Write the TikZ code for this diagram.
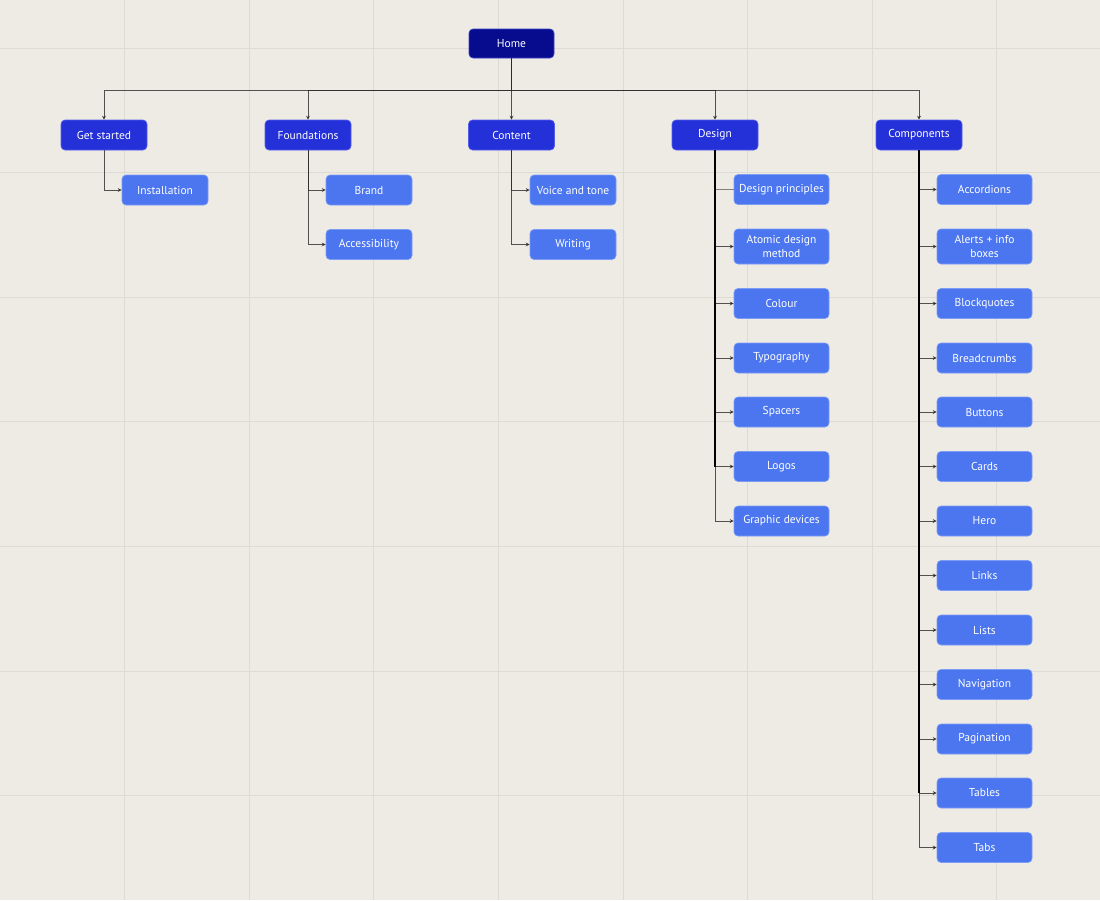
\documentclass[tikz,border=0pt]{standalone}
\usepackage{fontspec}
\setmainfont{PT Sans}
\usetikzlibrary{arrows.meta}
\definecolor{bg}{HTML}{EEEAE4}
\definecolor{gridc}{HTML}{DEDAD4}
\definecolor{homec}{HTML}{070B8E}
\definecolor{homeb}{HTML}{3A44C8}
\definecolor{lonec}{HTML}{2430D8}
\definecolor{loneb}{HTML}{5560EA}
\definecolor{ltwoc}{HTML}{4B76F0}
\definecolor{ltwob}{HTML}{7C9CF5}
\definecolor{linec}{HTML}{2A2A2A}
\begin{document}
\begin{tikzpicture}[x=1pt,y=-1pt,
  base/.style={rounded corners=4pt,text=white,font=\fontsize{11.5}{14.5}\selectfont,align=center,inner sep=0pt,line width=0.6pt},
  homebox/.style={base,fill=homec,draw=homeb,minimum width=85pt,minimum height=29pt},
  topbox/.style={base,fill=lonec,draw=loneb,minimum width=86pt,minimum height=30pt},
  leafbox/.style={base,fill=ltwoc,draw=ltwob,minimum width=86pt,minimum height=30pt},
  wideleaf/.style={leafbox,minimum width=95pt},
  tallleaf/.style={wideleaf,minimum height=35pt},
  edge/.style={draw=linec,draw opacity=0.8,line width=0.9pt,-{Stealth[length=4pt,width=4pt]}},
  plainedge/.style={draw=gray,line width=0.9pt},
  trunk/.style={draw=black,line width=1.8pt}
]
\useasboundingbox (0,0) rectangle (1100,900);
\fill[bg] (0,0) rectangle (1100,900);
\foreach \k in {1,...,8} {\draw[gridc,line width=1pt] (124.6*\k,0) -- (124.6*\k,900);}
\foreach \k in {0,...,6} {\draw[gridc,line width=1pt] (0,48+124.6*\k) -- (1100,48+124.6*\k);}

\coordinate (bus) at (0,90);

\node[homebox] (home) at (511.5,43.5) {Home};

\node[topbox] (gs) at (104,135) {Get started};
\node[topbox] (fo) at (308,135) {Foundations};
\node[topbox] (co) at (511.5,135) {Content};
\node[topbox] (de) at (715,135) {Design};
\node[topbox] (cm) at (919,135) {Components};

\node[leafbox] (inst) at (165,190) {Installation};
\node[leafbox] (brand) at (369,190) {Brand};
\node[leafbox] (acc) at (369,244.5) {Accessibility};
\node[leafbox] (voice) at (573,190) {Voice and tone};
\node[leafbox] (writ) at (573,244.5) {Writing};

\node[wideleaf] (d1) at (781.5,189.5) {Design principles};
\node[tallleaf] (d2) at (781.5,246.5) {Atomic design\\method};
\node[wideleaf] (d3) at (781.5,303.5) {Colour};
\node[wideleaf] (d4) at (781.5,358) {Typography};
\node[wideleaf] (d5) at (781.5,412) {Spacers};
\node[wideleaf] (d6) at (781.5,466.5) {Logos};
\node[wideleaf] (d7) at (781.5,521) {Graphic devices};

\node[wideleaf] (c1) at (984.5,189.5) {Accordions};
\node[tallleaf] (c2) at (984.5,246.5) {Alerts + info\\boxes};
\node[wideleaf] (c3) at (984.5,303.5) {Blockquotes};
\node[wideleaf] (c4) at (984.5,358) {Breadcrumbs};
\node[wideleaf] (c5) at (984.5,412) {Buttons};
\node[wideleaf] (c6) at (984.5,466.5) {Cards};
\node[wideleaf] (c7) at (984.5,521) {Hero};
\node[wideleaf] (c8) at (984.5,575.5) {Links};
\node[wideleaf] (c9) at (984.5,630) {Lists};
\node[wideleaf] (c10) at (984.5,684.5) {Navigation};
\node[wideleaf] (c11) at (984.5,739) {Pagination};
\node[wideleaf] (c12) at (984.5,793) {Tables};
\node[wideleaf] (c13) at (984.5,847.5) {Tabs};

\foreach \t in {gs,fo,co,de,cm}
  {\draw[edge] (home.south) -- (home.south |- bus) -| (\t.north);}

\draw[edge] (gs.south) |- (inst.west);
\draw[edge] (fo.south) |- (brand.west);
\draw[edge] (fo.south) |- (acc.west);
\draw[edge] (co.south) |- (voice.west);
\draw[edge] (co.south) |- (writ.west);

\draw[plainedge] (de.south) |- (d1.west);
\foreach \d in {d2,d3,d4,d5,d6,d7}
  {\draw[edge] (de.south) |- (\d.west);}
\draw[trunk] (de.south) -- (de.south |- d6.west);

\foreach \c in {c1,c2,c3,c4,c5,c6,c7,c8,c9,c10,c11,c12,c13}
  {\draw[edge] (cm.south) |- (\c.west);}
\draw[trunk,line width=1.4pt] (cm.south) -- (cm.south |- c12.west);
\end{tikzpicture}
\end{document}
